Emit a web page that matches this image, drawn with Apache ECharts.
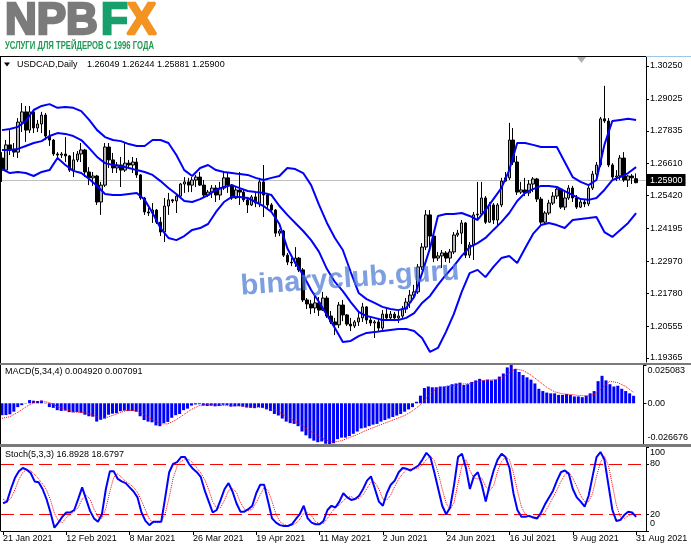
<!DOCTYPE html>
<html>
<head>
<meta charset="utf-8">
<script src="https://cdn.jsdelivr.net/npm/echarts@6/dist/echarts.min.js"></script>
<style>
html,body{margin:0;padding:0;background:#fff;}
#c{width:691px;height:549px;}
</style>
</head>
<body>
<div id="c"></div>
<script>
const FONT = '"Liberation Sans", Arial, sans-serif';
const symbolTitle = 'USDCAD,Daily';
const lastOHLC = '1.26049 1.26244 1.25881 1.25900';
const macdTitle = 'MACD(5,34,4) 0.004920 0.007091';
const stochTitle = 'Stoch(5,3,3) 16.8928 18.6797';
const lastPrice = 1.25900;

const dateLabels = ['21 Jan 2021','12 Feb 2021','8 Mar 2021','26 Mar 2021','19 Apr 2021','11 May 2021','2 Jun 2021','24 Jun 2021','16 Jul 2021','9 Aug 2021','31 Aug 2021'];
const labelStep = 16;

const priceTicks = [1.30250,1.29025,1.27835,1.26610,1.25420,1.24195,1.22970,1.21780,1.20555,1.19365];
const macdTicks = [0.025083, 0, -0.026676];
const stochTicks = [0, 20, 80, 100];
const stochLevels = [80, 20];

// [open, close, low, high]
const candles = [
[1.2682,1.2637,1.2593,1.2704],[1.2637,1.2731,1.2630,1.2749],[1.2731,1.2712,1.2693,1.2786],[1.2712,1.2704,1.2686,1.2738],
[1.2704,1.2816,1.2682,1.2831],[1.2816,1.2854,1.2779,1.2887],[1.2854,1.2786,1.2742,1.2876],[1.2786,1.2854,1.2775,1.2876],
[1.2854,1.2794,1.2775,1.2861],[1.2794,1.2809,1.2779,1.2824],[1.2809,1.2842,1.2775,1.2854],[1.2842,1.2764,1.2749,1.2850],
[1.2764,1.2749,1.2727,1.2786],[1.2749,1.2697,1.2690,1.2753],[1.2697,1.2693,1.2682,1.2704],[1.2693,1.2697,1.2682,1.2704],
[1.2697,1.2690,1.2667,1.2760],[1.2690,1.2637,1.2630,1.2693],[1.2637,1.2675,1.2611,1.2704],[1.2675,1.2697,1.2667,1.2708],
[1.2697,1.2712,1.2667,1.2738],[1.2712,1.2630,1.2611,1.2716],[1.2630,1.2608,1.2581,1.2648],[1.2608,1.2615,1.2578,1.2630],
[1.2615,1.2518,1.2507,1.2619],[1.2518,1.2581,1.2470,1.2593],[1.2581,1.2723,1.2574,1.2738],[1.2723,1.2675,1.2645,1.2738],
[1.2675,1.2645,1.2626,1.2701],[1.2645,1.2656,1.2626,1.2667],[1.2656,1.2637,1.2574,1.2686],[1.2637,1.2663,1.2630,1.2738],
[1.2663,1.2656,1.2645,1.2675],[1.2656,1.2667,1.2626,1.2686],[1.2667,1.2619,1.2608,1.2682],[1.2619,1.2533,1.2526,1.2622],
[1.2533,1.2481,1.2470,1.2537],[1.2481,1.2477,1.2466,1.2496],[1.2477,1.2488,1.2440,1.2514],[1.2488,1.2443,1.2436,1.2492],
[1.2443,1.2406,1.2391,1.2462],[1.2406,1.2503,1.2369,1.2533],[1.2503,1.2526,1.2470,1.2552],[1.2526,1.2522,1.2514,1.2529],
[1.2522,1.2540,1.2477,1.2544],[1.2540,1.2585,1.2533,1.2589],[1.2585,1.2593,1.2552,1.2611],[1.2593,1.2581,1.2555,1.2608],
[1.2581,1.2600,1.2555,1.2611],[1.2600,1.2611,1.2574,1.2619],[1.2611,1.2581,1.2578,1.2630],[1.2581,1.2544,1.2533,1.2600],
[1.2544,1.2555,1.2537,1.2563],[1.2555,1.2570,1.2533,1.2581],[1.2570,1.2544,1.2518,1.2581],[1.2544,1.2570,1.2526,1.2593],
[1.2570,1.2608,1.2563,1.2630],[1.2608,1.2581,1.2552,1.2626],[1.2581,1.2533,1.2526,1.2585],[1.2533,1.2563,1.2529,1.2574],
[1.2563,1.2555,1.2507,1.2630],[1.2555,1.2526,1.2518,1.2563],[1.2526,1.2507,1.2477,1.2537],[1.2507,1.2537,1.2503,1.2544],
[1.2537,1.2514,1.2499,1.2552],[1.2514,1.2593,1.2499,1.2608],[1.2593,1.2544,1.2462,1.2656],[1.2544,1.2507,1.2496,1.2552],
[1.2507,1.2488,1.2477,1.2514],[1.2488,1.2402,1.2388,1.2492],[1.2402,1.2410,1.2391,1.2417],[1.2410,1.2320,1.2313,1.2414],
[1.2320,1.2294,1.2283,1.2328],[1.2294,1.2291,1.2279,1.2309],[1.2291,1.2309,1.2276,1.2350],[1.2309,1.2265,1.2257,1.2313],
[1.2265,1.2153,1.2145,1.2272],[1.2153,1.2138,1.2119,1.2160],[1.2138,1.2123,1.2100,1.2153],[1.2123,1.2142,1.2104,1.2179],
[1.2142,1.2115,1.2093,1.2164],[1.2115,1.2160,1.2112,1.2183],[1.2160,1.2093,1.2086,1.2168],[1.2093,1.2071,1.2063,1.2112],
[1.2071,1.2060,1.2022,1.2086],[1.2060,1.2134,1.2048,1.2145],[1.2134,1.2097,1.2074,1.2153],[1.2097,1.2063,1.2056,1.2100],
[1.2063,1.2056,1.2037,1.2086],[1.2056,1.2071,1.2048,1.2078],[1.2071,1.2086,1.2056,1.2108],[1.2086,1.2127,1.2071,1.2142],
[1.2127,1.2078,1.2063,1.2130],[1.2078,1.2067,1.2056,1.2086],[1.2067,1.2071,1.2011,1.2078],[1.2071,1.2048,1.2033,1.2086],
[1.2048,1.2100,1.2041,1.2115],[1.2100,1.2086,1.2074,1.2123],[1.2086,1.2100,1.2078,1.2112],[1.2100,1.2086,1.2074,1.2108],
[1.2086,1.2093,1.2067,1.2112],[1.2093,1.2119,1.2086,1.2130],[1.2119,1.2145,1.2104,1.2160],[1.2145,1.2171,1.2123,1.2190],
[1.2171,1.2183,1.2156,1.2209],[1.2183,1.2276,1.2175,1.2287],[1.2276,1.2350,1.2265,1.2365],[1.2350,1.2470,1.2339,1.2488],
[1.2470,1.2391,1.2339,1.2488],[1.2391,1.2309,1.2294,1.2406],[1.2309,1.2317,1.2298,1.2332],[1.2317,1.2328,1.2272,1.2339],
[1.2328,1.2309,1.2294,1.2335],[1.2309,1.2332,1.2291,1.2343],[1.2332,1.2395,1.2324,1.2406],[1.2395,1.2402,1.2388,1.2414],
[1.2402,1.2440,1.2361,1.2451],[1.2440,1.2320,1.2309,1.2443],[1.2320,1.2358,1.2309,1.2369],[1.2358,1.2470,1.2302,1.2481],
[1.2470,1.2473,1.2455,1.2593],[1.2473,1.2533,1.2470,1.2593],[1.2533,1.2443,1.2436,1.2540],[1.2443,1.2507,1.2440,1.2518],
[1.2507,1.2451,1.2436,1.2514],[1.2451,1.2507,1.2429,1.2514],[1.2507,1.2596,1.2499,1.2608],[1.2596,1.2608,1.2593,1.2630],
[1.2608,1.2749,1.2600,1.2813],[1.2749,1.2667,1.2656,1.2794],[1.2667,1.2555,1.2544,1.2690],[1.2555,1.2563,1.2548,1.2593],
[1.2563,1.2552,1.2540,1.2608],[1.2552,1.2585,1.2540,1.2600],[1.2585,1.2604,1.2555,1.2611],[1.2604,1.2529,1.2518,1.2608],
[1.2529,1.2443,1.2432,1.2537],[1.2443,1.2477,1.2436,1.2484],[1.2477,1.2514,1.2470,1.2526],[1.2514,1.2540,1.2507,1.2555],
[1.2540,1.2566,1.2529,1.2574],[1.2566,1.2499,1.2492,1.2570],[1.2499,1.2533,1.2488,1.2555],[1.2533,1.2570,1.2526,1.2581],
[1.2570,1.2533,1.2518,1.2578],[1.2533,1.2499,1.2492,1.2544],[1.2499,1.2518,1.2496,1.2529],[1.2518,1.2511,1.2499,1.2526],
[1.2511,1.2570,1.2503,1.2578],[1.2570,1.2622,1.2563,1.2634],[1.2622,1.2656,1.2611,1.2667],[1.2656,1.2828,1.2648,1.2835],
[1.2828,1.2820,1.2813,1.2951],[1.2820,1.2656,1.2648,1.2831],[1.2656,1.2611,1.2600,1.2663],[1.2611,1.2615,1.2596,1.2637],
[1.2615,1.2682,1.2600,1.2693],[1.2682,1.2600,1.2593,1.2704],[1.2600,1.2615,1.2574,1.2619],[1.2615,1.2608,1.2585,1.2622],
[1.26049,1.25900,1.25881,1.26244]
];

// Bollinger bands, read every 2nd bar
const bbStep = 2;
const bbUpper = [1.2786,1.2790,1.2798,1.2820,1.2861,1.2876,1.2883,1.2869,1.2872,1.2869,1.2857,1.2824,1.2786,1.2760,1.2749,1.2745,1.2734,1.2727,1.2727,1.2749,1.2749,1.2738,1.2693,1.2637,1.2615,1.2645,1.2656,1.2637,1.2630,1.2626,1.2622,1.2619,1.2608,1.2600,1.2608,1.2615,1.2645,1.2641,1.2626,1.2581,1.2507,1.2440,1.2384,1.2339,1.2257,1.2179,1.2156,1.2142,1.2127,1.2119,1.2115,1.2123,1.2164,1.2253,1.2346,1.2466,1.2473,1.2473,1.2477,1.2466,1.2451,1.2488,1.2529,1.2570,1.2637,1.2738,1.2738,1.2731,1.2723,1.2723,1.2723,1.2667,1.2611,1.2593,1.2581,1.2600,1.2731,1.2820,1.2824,1.2828,1.2824];
const bbMiddle = [1.2712,1.2712,1.2716,1.2727,1.2738,1.2745,1.2764,1.2775,1.2772,1.2764,1.2749,1.2719,1.2686,1.2663,1.2656,1.2652,1.2645,1.2637,1.2630,1.2619,1.2596,1.2570,1.2548,1.2522,1.2518,1.2529,1.2544,1.2563,1.2574,1.2581,1.2570,1.2559,1.2555,1.2552,1.2544,1.2503,1.2470,1.2440,1.2410,1.2376,1.2332,1.2268,1.2220,1.2186,1.2145,1.2108,1.2093,1.2086,1.2078,1.2078,1.2078,1.2086,1.2104,1.2142,1.2168,1.2209,1.2246,1.2279,1.2317,1.2350,1.2365,1.2384,1.2414,1.2443,1.2477,1.2522,1.2552,1.2566,1.2578,1.2578,1.2574,1.2559,1.2544,1.2529,1.2526,1.2533,1.2563,1.2600,1.2611,1.2626,1.2648];
const bbLower = [1.2641,1.2626,1.2630,1.2626,1.2615,1.2630,1.2637,1.2682,1.2656,1.2634,1.2626,1.2604,1.2578,1.2548,1.2544,1.2544,1.2548,1.2552,1.2526,1.2477,1.2421,1.2384,1.2376,1.2391,1.2414,1.2421,1.2436,1.2481,1.2518,1.2537,1.2537,1.2533,1.2518,1.2503,1.2481,1.2436,1.2346,1.2291,1.2246,1.2190,1.2145,1.2097,1.2048,1.1996,1.2000,1.2018,1.2030,1.2033,1.2037,1.2041,1.2045,1.2045,1.2037,1.2011,1.1959,1.1974,1.2033,1.2100,1.2183,1.2253,1.2265,1.2238,1.2276,1.2309,1.2317,1.2291,1.2346,1.2399,1.2432,1.2440,1.2432,1.2421,1.2451,1.2455,1.2458,1.2462,1.2406,1.2388,1.2414,1.2440,1.2477];

const macdHist = [
-0.0078,-0.0077,-0.0072,-0.0055,-0.0025,-0.0012,-0.0002,0.0021,0.0017,0.0015,
0.0018,0.0003,-0.0025,-0.0030,-0.0045,-0.0050,-0.0048,-0.0058,-0.0060,-0.0058,
-0.0062,-0.0075,-0.0085,-0.0088,-0.0120,-0.0108,-0.0100,-0.0075,-0.0068,-0.0065,
-0.0052,-0.0048,-0.0050,-0.0050,-0.0055,-0.0085,-0.0110,-0.0120,-0.0125,-0.0145,
-0.0150,-0.0130,-0.0122,-0.0095,-0.0078,-0.0070,-0.0045,-0.0035,-0.0015,-0.0008,
-0.0006,-0.0015,-0.0018,-0.0016,-0.0020,-0.0018,-0.0010,-0.0012,-0.0022,-0.0020,
-0.0018,-0.0022,-0.0028,-0.0030,-0.0032,-0.0025,-0.0030,-0.0040,-0.0050,-0.0070,
-0.0080,-0.0100,-0.0120,-0.0130,-0.0135,-0.0150,-0.0185,-0.0210,-0.0230,-0.0245,
-0.0255,-0.0250,-0.0265,-0.0267,-0.0262,-0.0235,-0.0225,-0.0225,-0.0215,-0.0200,
-0.0185,-0.0165,-0.0160,-0.0150,-0.0140,-0.0135,-0.0120,-0.0110,-0.0100,-0.0090,
-0.0080,-0.0070,-0.0055,-0.0040,-0.0025,0.0010,0.0050,0.0100,0.0110,0.0105,
0.0105,0.0110,0.0110,0.0115,0.0125,0.0130,0.0135,0.0120,0.0125,0.0140,
0.0150,0.0160,0.0150,0.0155,0.0150,0.0155,0.0175,0.0195,0.0235,0.0251,
0.0225,0.0205,0.0185,0.0170,0.0155,0.0130,0.0095,0.0080,0.0070,0.0065,
0.0065,0.0055,0.0055,0.0060,0.0055,0.0045,0.0045,0.0040,0.0050,0.0065,
0.0080,0.0145,0.0180,0.0150,0.0125,0.0110,0.0115,0.0095,0.0080,0.0065,
0.0049];
// MACD signal, read every 2nd bar
const macdSignal = [-0.0098,-0.0088,-0.0060,-0.0025,0.0005,0.0015,0.0005,-0.0020,-0.0040,-0.0055,-0.0060,-0.0068,-0.0085,-0.0097,-0.0080,-0.0060,-0.0045,-0.0050,-0.0075,-0.0105,-0.0135,-0.0135,-0.0110,-0.0075,-0.0040,-0.0015,-0.0008,-0.0012,-0.0015,-0.0016,-0.0018,-0.0021,-0.0025,-0.0028,-0.0035,-0.0055,-0.0085,-0.0115,-0.0145,-0.0180,-0.0215,-0.0240,-0.0255,-0.0245,-0.0225,-0.0205,-0.0180,-0.0160,-0.0140,-0.0120,-0.0100,-0.0080,-0.0050,-0.0010,0.0050,0.0095,0.0108,0.0115,0.0125,0.0128,0.0138,0.0150,0.0153,0.0160,0.0190,0.0225,0.0215,0.0185,0.0145,0.0105,0.0075,0.0062,0.0058,0.0052,0.0048,0.0055,0.0100,0.0145,0.0135,0.0110,0.0071];

const stochMain = [
33,35,50,63,71,75,73,69,59,58, 50,38,22,4,10,17,22,22,25,38,
52,38,24,15,11,20,50,71,71,62, 59,57,52,47,40,22,12,7,11,11,
11,40,70,80,82,88,88,80,74,70, 64,48,35,22,25,37,50,57,47,33,
23,23,26,30,45,55,55,35,15,10, 7,6,6,8,14,20,30,15,10,8,
8,12,25,30,28,35,45,40,37,38, 42,50,60,65,50,35,30,45,55,60,
70,75,74,72,75,78,85,93,88,70, 50,30,20,28,55,88,92,75,50,65,
70,55,35,55,72,85,92,88,75,45, 25,17,17,18,16,15,22,32,40,48,
60,70,72,68,50,40,35,29,42,65, 88,94,85,55,25,12,13,19,23,22,
16.8928];
const stochSignal = [
38,35,39,49,61,70,73,72,67,62, 56,49,37,21,12,10,16,20,23,28,
38,43,38,26,17,15,27,47,64,68, 64,59,56,52,46,36,25,14,10,10,
11,21,40,63,77,83,86,85,81,75, 69,61,49,35,27,28,37,48,51,46,
34,26,24,26,34,43,52,48,35,20, 11,8,6,7,9,14,21,22,18,11,
9,9,15,22,28,31,36,40,41,38, 39,43,51,58,58,50,38,37,43,53,
62,68,73,74,74,75,79,85,89,84, 69,50,33,26,34,57,78,85,72,63,
62,63,53,48,54,71,83,88,85,69, 48,29,20,17,17,16,18,23,31,40,
49,59,67,70,63,53,42,35,35,45, 65,82,89,78,55,31,17,15,18,21,
18.6797];

// ---------- build ----------
const extraSlots = 2; // empty space right of the last bar
const cats = Array.from({length: candles.length + extraSlots}, (_, i) => String(i));
const sparse = arr => arr.map((v, k) => [k * bbStep, v]);
const isLabelIdx = i => i % labelStep === 0 && (i / labelStep) < dateLabels.length;

function xAx(grid, show) {
  return {
    type: 'category', gridIndex: grid, data: cats, boundaryGap: true,
    axisLine: {show: show, lineStyle: {color: '#000', width: 1}},
    axisTick: {show: show, alignWithLabel: true, interval: isLabelIdx, length: 4, lineStyle: {color: '#000'}},
    axisLabel: {show: show, interval: isLabelIdx, formatter: (v, i) => dateLabels[i / labelStep] || '',
      align: 'left', fontSize: 9, color: '#000', margin: 3, fontFamily: FONT},
    splitLine: {show: false}
  };
}
const edgeRich = {
  t: {fontSize: 9, color: '#000', fontFamily: FONT, padding: [12, 0, 0, 0]},
  b: {fontSize: 9, color: '#000', fontFamily: FONT, padding: [0, 0, 12, 0]},
  z: {fontSize: 9, color: '#000', fontFamily: FONT, padding: [0, 0, 15, 0]}
};

const chart = echarts.init(document.getElementById('c'), null, {renderer: 'canvas'});
const option = {
  animation: false,
  textStyle: {fontFamily: FONT},
  grid: [
    {left: 0, top: 57, width: 646, height: 305},
    {left: 0, top: 365, width: 646, height: 79},
    {left: 0, top: 447, width: 646, height: 84}
  ],
  xAxis: [xAx(0, false), xAx(1, false), xAx(2, true)],
  yAxis: [
    {type: 'value', gridIndex: 0, position: 'right', min: 1.19216, max: 1.30586,
     axisLine: {show: true, lineStyle: {color: '#000'}},
     axisTick: {show: true, customValues: priceTicks, length: 3, lineStyle: {color: '#000'}},
     axisLabel: {customValues: priceTicks, formatter: v => v.toFixed(5), fontSize: 9, color: '#000', margin: 4},
     splitLine: {show: false}},
    {type: 'value', gridIndex: 1, position: 'right', min: -0.026676, max: 0.025083,
     axisLine: {show: true, lineStyle: {color: '#000'}},
     axisTick: {show: true, customValues: macdTicks, length: 3, lineStyle: {color: '#000'}},
     axisLabel: {customValues: macdTicks, fontSize: 9, color: '#000', margin: 4, rich: edgeRich,
       formatter: v => v === 0 ? '0.00' : (v > 0 ? '{t|' + v.toFixed(6) + '}' : '{b|' + v.toFixed(6) + '}')},
     splitLine: {show: false}},
    {type: 'value', gridIndex: 2, position: 'right', min: 0, max: 100,
     axisLine: {show: true, lineStyle: {color: '#000'}},
     axisTick: {show: true, customValues: stochTicks, length: 3, lineStyle: {color: '#000'}},
     axisLabel: {customValues: stochTicks, fontSize: 9, color: '#000', margin: 4, rich: edgeRich,
       formatter: v => v === 100 ? '{t|100}' : (v === 0 ? '{z|0}' : String(v))},
     splitLine: {show: false}}
  ],
  series: [
    {type: 'candlestick', name: 'USDCAD', xAxisIndex: 0, yAxisIndex: 0, data: candles, barWidth: 3, z: 3,
     itemStyle: {color: '#b4b4b4', color0: '#000', borderColor: '#000', borderColor0: '#000', borderWidth: 1},
     markLine: {silent: true, symbol: ['none', 'none'], z: 1,
       lineStyle: {color: '#c0c0c0', width: 1, type: 'solid'},
       label: {show: true, position: 'end', formatter: () => lastPrice.toFixed(5), color: '#fff', backgroundColor: '#000',
         padding: [2, 3, 1, 3], fontSize: 9, distance: 1},
       data: [{yAxis: lastPrice}]}},
    {type: 'line', name: 'BB upper', xAxisIndex: 0, yAxisIndex: 0, data: sparse(bbUpper), symbol: 'none', z: 4,
     lineStyle: {color: '#0000ff', width: 2}},
    {type: 'line', name: 'BB middle', xAxisIndex: 0, yAxisIndex: 0, data: sparse(bbMiddle), symbol: 'none', z: 4,
     lineStyle: {color: '#0000ff', width: 2}},
    {type: 'line', name: 'BB lower', xAxisIndex: 0, yAxisIndex: 0, data: sparse(bbLower), symbol: 'none', z: 4,
     lineStyle: {color: '#0000ff', width: 2}},
    {type: 'bar', name: 'MACD', xAxisIndex: 1, yAxisIndex: 1, data: macdHist, barWidth: 3,
     itemStyle: {color: '#0000ff'}},
    {type: 'line', name: 'Signal', xAxisIndex: 1, yAxisIndex: 1, data: sparse(macdSignal), symbol: 'none', z: 4,
     lineStyle: {color: '#ff0000', width: 1, type: 'dotted'}},
    {type: 'line', name: 'Stoch main', xAxisIndex: 2, yAxisIndex: 2, data: stochMain, symbol: 'none', z: 4,
     lineStyle: {color: '#0000ff', width: 2},
     markLine: {silent: true, symbol: ['none', 'none'], z: 2,
       lineStyle: {color: '#ff0000', width: 1, type: [13, 6]}, label: {show: false},
       data: stochLevels.map(v => ({yAxis: v}))}},
    {type: 'line', name: 'Stoch signal', xAxisIndex: 2, yAxisIndex: 2, data: stochSignal, symbol: 'none', z: 3,
     lineStyle: {color: '#ff0000', width: 1, type: 'dotted'}}
  ],
  graphic: [
    // logo
    {type: 'text', x: 5, y: 22, style: {text: 'NPB', fontSize: 44, fontWeight: 'bold', fontFamily: FONT, fill: '#7b7b7b', stroke: '#7b7b7b', lineWidth: 2.5, verticalAlign: 'middle'}},
    {type: 'text', x: 101, y: 22, style: {text: 'F', fontSize: 44, fontWeight: 'bold', fontFamily: FONT, fill: '#17a06b', stroke: '#17a06b', lineWidth: 2.5, verticalAlign: 'middle'}},
    {type: 'text', x: 127, y: 22, style: {text: 'X', fontSize: 44, fontWeight: 'bold', fontFamily: FONT, fill: '#f39322', stroke: '#f39322', lineWidth: 2.5, verticalAlign: 'middle'}},
    {type: 'text', x: 5, y: 46, scaleX: 0.7, style: {text: 'УСЛУГИ ДЛЯ ТРЕЙДЕРОВ С 1996 ГОДА', fontSize: 11, fontWeight: 'bold', fontFamily: FONT, fill: '#1f9a55', verticalAlign: 'middle'}},
    // frame
    {type: 'line', z: 100, shape: {x1: 0, y1: 56.5, x2: 646, y2: 56.5}, style: {stroke: '#000', lineWidth: 1}},
    {type: 'line', z: 100, shape: {x1: 646, y1: 56.5, x2: 691, y2: 56.5}, style: {stroke: '#9ec4e6', lineWidth: 1}},
    {type: 'line', z: 100, shape: {x1: 0.5, y1: 56, x2: 0.5, y2: 531}, style: {stroke: '#000', lineWidth: 1}},
    {type: 'rect', z: 100, shape: {x: 0, y: 363, width: 691, height: 2}, style: {fill: '#7a7a7a'}},
    {type: 'rect', z: 100, shape: {x: 0, y: 444, width: 691, height: 3}, style: {fill: '#7a7a7a'}},
    {type: 'polygon', z: 100, shape: {points: [[577, 57], [586, 57], [581.5, 63]]}, style: {fill: '#b0b0b0'}},
    // header texts
    {type: 'polygon', z: 100, shape: {points: [[4, 62.5], [10, 62.5], [7, 66.5]]}, style: {fill: '#000'}},
    {type: 'text', z: 100, x: 17, y: 65, style: {text: symbolTitle, fontSize: 9, fontFamily: FONT, fill: '#000', verticalAlign: 'middle'}},
    {type: 'text', z: 100, x: 87, y: 65, style: {text: lastOHLC, fontSize: 9, fontFamily: FONT, fill: '#000', verticalAlign: 'middle'}},
    {type: 'text', z: 100, x: 5, y: 372, style: {text: macdTitle, fontSize: 9, fontFamily: FONT, fill: '#000', verticalAlign: 'middle'}},
    {type: 'text', z: 100, x: 5, y: 455, style: {text: stochTitle, fontSize: 9, fontFamily: FONT, fill: '#000', verticalAlign: 'middle'}},
    // watermark
    {type: 'text', z: 90, x: 350, y: 279, rotation: 0.07,
     style: {text: 'binaryclub.guru', fontSize: 29, fontWeight: 'bold', fontFamily: FONT, fill: 'rgba(75,120,210,0.72)', align: 'center', verticalAlign: 'middle'}}
  ]
};
chart.setOption(option);
</script>
</body>
</html>
